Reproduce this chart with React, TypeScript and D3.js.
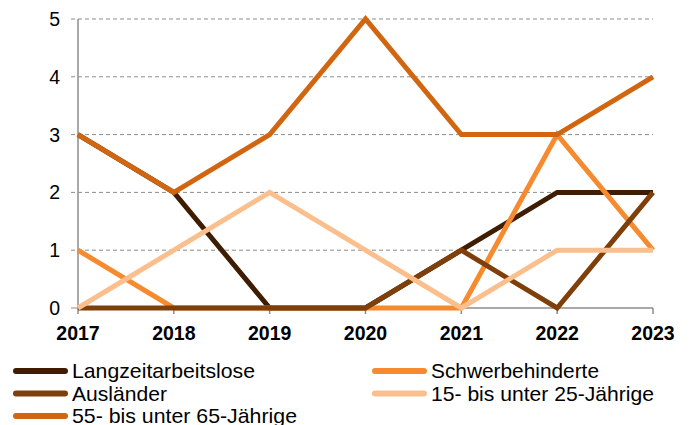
import * as d3 from "d3";

const years = ["2017", "2018", "2019", "2020", "2021", "2022", "2023"];
const langzeit = [3, 2, 0, 0, 1, 2, 2];
const schwerbehinderte = [1, 0, 0, 0, 0, 3, 1];
const auslaender = [0, 0, 0, 0, 1, 0, 2];
const jung = [0, 1, 2, 1, 0, 1, 1];
const aelter = [3, 2, 3, 5, 3, 3, 4];
const yTicks = [0, 1, 2, 3, 4, 5];

const series = [
  { name: "Langzeitarbeitslose", values: langzeit, color: "#3f1d03", textW: 183 },
  { name: "Schwerbehinderte", values: schwerbehinderte, color: "#f68a2f", textW: 168 },
  { name: "Ausländer", values: auslaender, color: "#7f3f0a", textW: 95 },
  { name: "15- bis unter 25-Jährige", values: jung, color: "#fbbf8e", textW: 223 },
  { name: "55- bis unter 65-Jährige", values: aelter, color: "#d26510", textW: 225 },
];

// legend: two columns, filled row by row
const legendOrder = [
  { s: 0, col: 0, row: 0 },
  { s: 1, col: 1, row: 0 },
  { s: 2, col: 0, row: 1 },
  { s: 3, col: 1, row: 1 },
  { s: 4, col: 0, row: 2 },
];

export default function App() {
  const width = 691;
  const height = 425;
  const left = 78;
  const right = 653;
  const top = 19;
  const bottom = 308;

  const x = d3.scalePoint<string>().domain(years).range([left, right]);
  const y = d3.scaleLinear().domain([0, 5]).range([bottom, top]);

  const line = d3
    .line<number>()
    .x((_, i) => x(years[i]) as number)
    .y((v) => y(v));

  const font = "Arial, 'Liberation Sans', sans-serif";

  return (
    <svg
      width={width}
      height={height}
      style={{ position: "absolute", left: 0, top: 0, background: "#fff" }}
    >
      {yTicks.slice(1).map((t) => (
        <line
          key={"g" + t}
          x1={left - 7}
          x2={right}
          y1={y(t)}
          y2={y(t)}
          stroke="#8c8c8c"
          strokeWidth={1}
          strokeDasharray="4,3"
        />
      ))}
      <line x1={left - 7} x2={left} y1={y(0)} y2={y(0)} stroke="#8c8c8c" />
      <line x1={left} x2={left} y1={top} y2={bottom} stroke="#8c8c8c" strokeWidth={1.5} />
      <line x1={left} x2={right} y1={bottom} y2={bottom} stroke="#8c8c8c" strokeWidth={1.5} />
      {years.map((yr) => (
        <line
          key={"t" + yr}
          x1={x(yr)}
          x2={x(yr)}
          y1={bottom}
          y2={bottom + 6}
          stroke="#8c8c8c"
          strokeWidth={1.5}
        />
      ))}
      {yTicks.map((t) => (
        <text
          key={"yl" + t}
          x={60}
          y={y(t)}
          dy="0.36em"
          textAnchor="end"
          fontFamily={font}
          fontSize={19.5}
          fill="#000"
        >
          {t}
        </text>
      ))}
      {years.map((yr) => (
        <text
          key={"xl" + yr}
          x={x(yr)}
          y={340}
          textAnchor="middle"
          fontFamily={font}
          fontSize={19.5}
          fontWeight="bold"
          fill="#000"
        >
          {yr}
        </text>
      ))}
      {series.map((s) => (
        <path
          key={s.name}
          d={line(s.values) || ""}
          fill="none"
          stroke={s.color}
          strokeWidth={5}
          strokeLinejoin="miter"
        />
      ))}
      {legendOrder.map(({ s, col, row }) => {
        const lx = col === 0 ? 16 : 375;
        const ly = 371 + row * 22.5;
        return (
          <g key={"lg" + s}>
            <line
              x1={lx}
              x2={lx + 49}
              y1={ly}
              y2={ly}
              stroke={series[s].color}
              strokeWidth={6}
              strokeLinecap="round"
            />
            <text
              x={lx + 56}
              y={ly}
              dy="0.34em"
              fontFamily={font}
              fontSize={21}
              textLength={series[s].textW}
              lengthAdjust="spacingAndGlyphs"
              fill="#000"
            >
              {series[s].name}
            </text>
          </g>
        );
      })}
    </svg>
  );
}
